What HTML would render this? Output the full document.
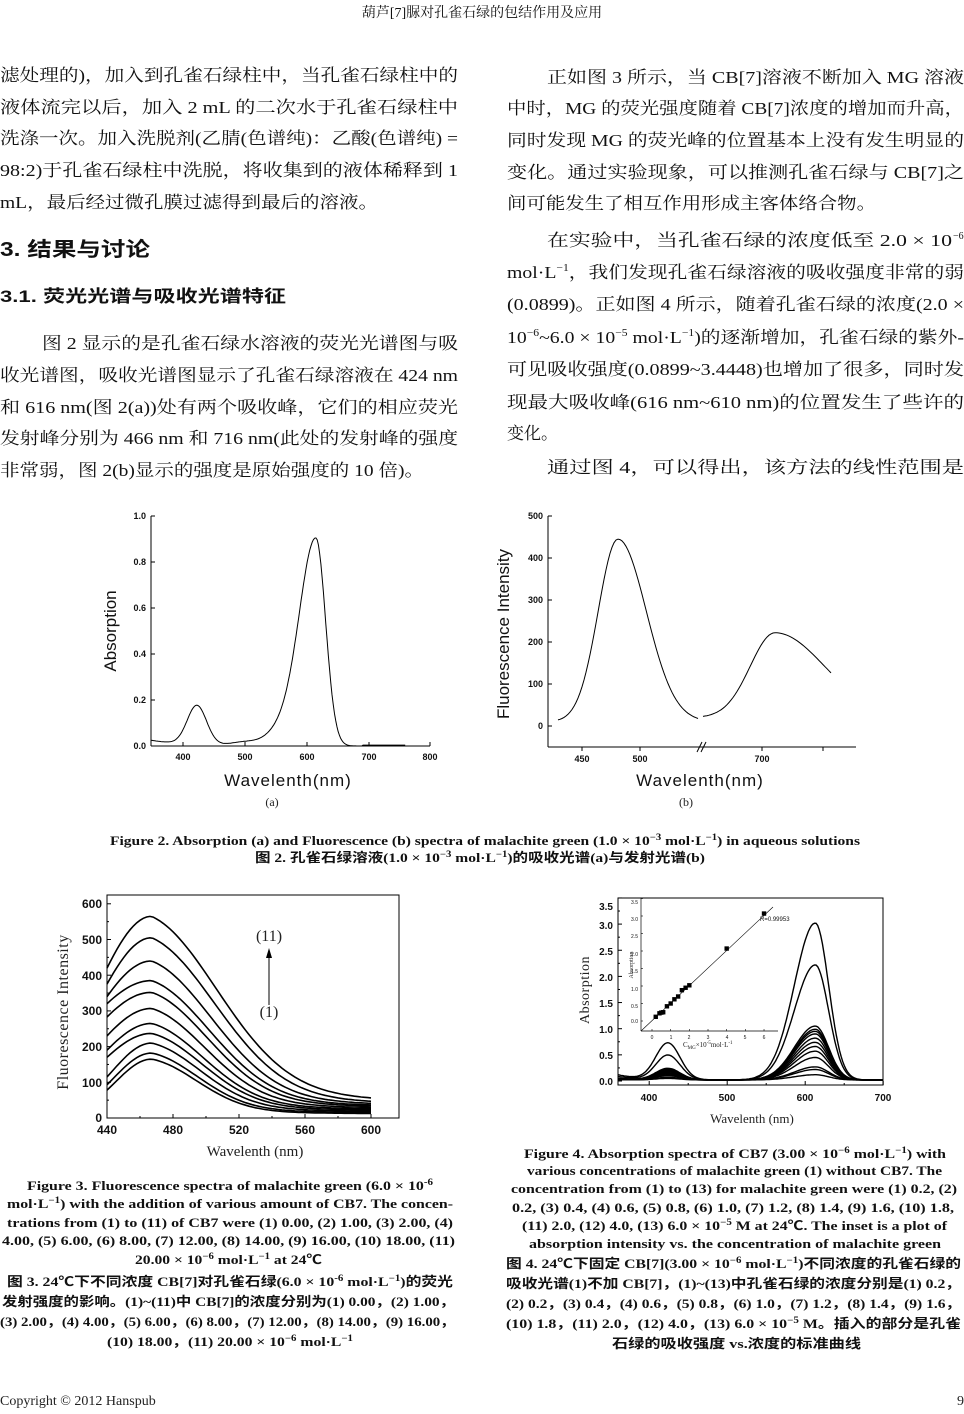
<!DOCTYPE html>
<html><head><meta charset="utf-8"><style>
html,body{margin:0;padding:0;background:#fff}
svg{display:block}
.b{font-family:"Liberation Serif","Noto Serif CJK SC",serif;font-size:17px;fill:#111}
.h{font-family:"Liberation Sans","Noto Sans CJK SC",sans-serif;font-weight:bold;fill:#111}
.c{font-family:"Liberation Serif","Noto Sans CJK SC",serif;font-weight:bold;font-size:13px;fill:#111}
.t{font-family:"Liberation Sans",sans-serif;font-weight:bold;fill:#111}
.s{font-family:"Liberation Sans",sans-serif;fill:#111}
.r{font-family:"Liberation Serif",serif;fill:#222}
</style></head><body>
<svg id="g" width="964" height="1414" viewBox="0 0 964 1414" xmlns="http://www.w3.org/2000/svg">
<text x="482" y="17" text-anchor="middle" class="b" style="font-size:14px">葫芦[7]脲对孔雀石绿的包结作用及应用</text>

<text class="b" x="0" y="81" textLength="458" lengthAdjust="spacingAndGlyphs">滤处理的)，加入到孔雀石绿柱中，当孔雀石绿柱中的</text>
<text class="b" x="0" y="113" textLength="458" lengthAdjust="spacingAndGlyphs">液体流完以后，加入 2 mL 的二次水于孔雀石绿柱中</text>
<text class="b" x="0" y="144" textLength="458" lengthAdjust="spacingAndGlyphs">洗涤一次。加入洗脱剂(乙腈(色谱纯)：乙酸(色谱纯) =</text>
<text class="b" x="0" y="176" textLength="458" lengthAdjust="spacingAndGlyphs">98:2)于孔雀石绿柱中洗脱，将收集到的液体稀释到 1</text>
<text class="b" x="0" y="208" textLength="378" lengthAdjust="spacingAndGlyphs">mL，最后经过微孔膜过滤得到最后的溶液。</text>
<text class="h" x="0" y="256" style="font-size:20px" textLength="150" lengthAdjust="spacingAndGlyphs">3. 结果与讨论</text>
<text class="h" x="0" y="302" style="font-size:17px" textLength="286" lengthAdjust="spacingAndGlyphs">3.1. 荧光光谱与吸收光谱特征</text>
<text class="b" x="42" y="349" textLength="416" lengthAdjust="spacingAndGlyphs">图 2 显示的是孔雀石绿水溶液的荧光光谱图与吸</text>
<text class="b" x="0" y="381" textLength="458" lengthAdjust="spacingAndGlyphs">收光谱图，吸收光谱图显示了孔雀石绿溶液在 424 nm</text>
<text class="b" x="0" y="413" textLength="458" lengthAdjust="spacingAndGlyphs">和 616 nm(图 2(a))处有两个吸收峰，它们的相应荧光</text>
<text class="b" x="0" y="444" textLength="458" lengthAdjust="spacingAndGlyphs">发射峰分别为 466 nm 和 716 nm(此处的发射峰的强度</text>
<text class="b" x="0" y="476" textLength="424" lengthAdjust="spacingAndGlyphs">非常弱，图 2(b)显示的强度是原始强度的 10 倍)。</text>

<text class="b" x="547" y="83" textLength="417" lengthAdjust="spacingAndGlyphs">正如图 3 所示，当 CB[7]溶液不断加入 MG 溶液</text>
<text class="b" x="507" y="114" textLength="457" lengthAdjust="spacingAndGlyphs">中时，MG 的荧光强度随着 CB[7]浓度的增加而升高，</text>
<text class="b" x="507" y="146" textLength="457" lengthAdjust="spacingAndGlyphs">同时发现 MG 的荧光峰的位置基本上没有发生明显的</text>
<text class="b" x="507" y="178" textLength="457" lengthAdjust="spacingAndGlyphs">变化。通过实验现象，可以推测孔雀石绿与 CB[7]之</text>
<text class="b" x="507" y="209" textLength="369" lengthAdjust="spacingAndGlyphs">间可能发生了相互作用形成主客体络合物。</text>
<text class="b" x="547" y="246" textLength="405" lengthAdjust="spacingAndGlyphs">在实验中，当孔雀石绿的浓度低至 2.0 × 10</text><text class="b" x="953" y="239" style="font-size:10px">−6</text>
<text class="b" x="507" y="278" textLength="457" lengthAdjust="spacingAndGlyphs">mol·L<tspan dy="-7" font-size="10">−1</tspan><tspan dy="7">，我们发现孔雀石绿溶液的吸收强度非常的弱</tspan></text>
<text class="b" x="507" y="310" textLength="457" lengthAdjust="spacingAndGlyphs">(0.0899)。正如图 4 所示，随着孔雀石绿的浓度(2.0 ×</text>
<text class="b" x="507" y="343" textLength="457" lengthAdjust="spacingAndGlyphs">10<tspan dy="-7" font-size="10">−6</tspan><tspan dy="7">~6.0 × 10</tspan><tspan dy="-7" font-size="10">−5</tspan><tspan dy="7"> mol·L</tspan><tspan dy="-7" font-size="10">−1</tspan><tspan dy="7">)的逐渐增加，孔雀石绿的紫外-</tspan></text>
<text class="b" x="507" y="375" textLength="457" lengthAdjust="spacingAndGlyphs">可见吸收强度(0.0899~3.4448)也增加了很多，同时发</text>
<text class="b" x="507" y="408" textLength="457" lengthAdjust="spacingAndGlyphs">现最大吸收峰(616 nm~610 nm)的位置发生了些许的</text>
<text class="b" x="507" y="439">变化。</text>
<text class="b" x="547" y="473" textLength="417" lengthAdjust="spacingAndGlyphs">通过图 4，可以得出，该方法的线性范围是</text>

<!-- Fig 2a -->
<g stroke="#000" stroke-width="1" fill="none">
<line x1="151" y1="516" x2="151" y2="746"/><line x1="151" y1="746" x2="430" y2="746"/>
<line x1="183" y1="746" x2="183" y2="742"/><line x1="245" y1="746" x2="245" y2="742"/><line x1="307" y1="746" x2="307" y2="742"/><line x1="369" y1="746" x2="369" y2="742"/><line x1="430" y1="746" x2="430" y2="742"/>
<line x1="151" y1="516" x2="155" y2="516"/><line x1="151" y1="562" x2="155" y2="562"/><line x1="151" y1="608" x2="155" y2="608"/><line x1="151" y1="654" x2="155" y2="654"/><line x1="151" y1="700" x2="155" y2="700"/>
<path id="p2a" stroke-width="1"/>
</g>
<g class="t" style="font-size:9px" text-anchor="end">
<text x="146" y="519">1.0</text><text x="146" y="565">0.8</text><text x="146" y="611">0.6</text><text x="146" y="657">0.4</text><text x="146" y="703">0.2</text><text x="146" y="749">0.0</text></g>
<g class="t" style="font-size:9px" text-anchor="middle">
<text x="183" y="760">400</text><text x="245" y="760">500</text><text x="307" y="760">600</text><text x="369" y="760">700</text><text x="430" y="760">800</text></g>
<text class="s" transform="translate(116,631) rotate(-90)" text-anchor="middle" style="font-size:17px">Absorption</text>
<text class="s" x="288" y="786" text-anchor="middle" style="font-size:17px;letter-spacing:1px">Wavelenth(nm)</text>
<text class="r" x="272" y="806" text-anchor="middle" style="font-size:12px">(a)</text>

<!-- Fig 2b -->
<g stroke="#000" stroke-width="1" fill="none">
<line x1="548" y1="516" x2="548" y2="747"/><line x1="548" y1="747" x2="856" y2="747"/>
<line x1="548" y1="516" x2="552" y2="516"/><line x1="548" y1="558" x2="552" y2="558"/><line x1="548" y1="600" x2="552" y2="600"/><line x1="548" y1="642" x2="552" y2="642"/><line x1="548" y1="684" x2="552" y2="684"/><line x1="548" y1="726" x2="552" y2="726"/>
<line x1="582" y1="747" x2="582" y2="751"/><line x1="640" y1="747" x2="640" y2="751"/><line x1="762" y1="747" x2="762" y2="751"/><line x1="823" y1="747" x2="823" y2="751"/>
<line x1="697" y1="752" x2="702" y2="742"/><line x1="701" y1="752" x2="706" y2="742"/>
<path id="p2b1"/><path id="p2b2"/>
</g>
<g class="t" style="font-size:9px" text-anchor="end">
<text x="543" y="519">500</text><text x="543" y="561">400</text><text x="543" y="603">300</text><text x="543" y="645">200</text><text x="543" y="687">100</text><text x="543" y="729">0</text></g>
<g class="t" style="font-size:9px" text-anchor="middle"><text x="582" y="762">450</text><text x="640" y="762">500</text><text x="762" y="762">700</text></g>
<text class="s" transform="translate(509,634) rotate(-90)" text-anchor="middle" style="font-size:17px">Fluorescence Intensity</text>
<text class="s" x="700" y="786" text-anchor="middle" style="font-size:17px;letter-spacing:1px">Wavelenth(nm)</text>
<text class="r" x="686" y="806" text-anchor="middle" style="font-size:12px">(b)</text>

<text class="c" x="110" y="845" textLength="750" lengthAdjust="spacingAndGlyphs">Figure 2. Absorption (a) and Fluorescence (b) spectra of malachite green (1.0 × 10<tspan dy="-5" font-size="9">−3</tspan><tspan dy="5"> mol·L</tspan><tspan dy="-5" font-size="9">−1</tspan><tspan dy="5">) in aqueous solutions</tspan></text>
<text class="c" x="255" y="862" textLength="450" lengthAdjust="spacingAndGlyphs">图 2. 孔雀石绿溶液(1.0 × 10<tspan dy="-5" font-size="9">−3</tspan><tspan dy="5"> mol·L</tspan><tspan dy="-5" font-size="9">−1</tspan><tspan dy="5">)的吸收光谱(a)与发射光谱(b)</tspan></text>

<!-- Fig 3 -->
<g stroke="#000" stroke-width="1" fill="none">
<rect x="107" y="895" width="292" height="223"/>
<g id="t3"></g>
<g id="c3" stroke-width="1.6"></g>
<line x1="269" y1="1005" x2="269" y2="955"/>
</g>
<path d="M269 948 L266 958 L272 958Z" fill="#000"/>
<g class="t" style="font-size:12px" text-anchor="end">
<text x="102" y="908">600</text><text x="102" y="944">500</text><text x="102" y="980">400</text><text x="102" y="1015">300</text><text x="102" y="1051">200</text><text x="102" y="1087">100</text><text x="102" y="1122">0</text></g>
<g class="t" style="font-size:12px" text-anchor="middle">
<text x="107" y="1134">440</text><text x="173" y="1134">480</text><text x="239" y="1134">520</text><text x="305" y="1134">560</text><text x="371" y="1134">600</text></g>
<text class="r" x="269" y="941" text-anchor="middle" style="font-size:16px">(11)</text>
<text class="r" x="269" y="1017" text-anchor="middle" style="font-size:16px">(1)</text>
<text class="r" transform="translate(68,1012) rotate(-90)" text-anchor="middle" style="font-size:16px;letter-spacing:0.5px">Fluorescence Intensity</text>
<text class="r" x="255" y="1156" text-anchor="middle" style="font-size:15px">Wavelenth (nm)</text>

<g class="c">
<text x="27" y="1190" textLength="406" lengthAdjust="spacingAndGlyphs">Figure 3. Fluorescence spectra of malachite green (6.0 × 10<tspan dy="-5" font-size="9">-6</tspan></text>
<text x="7" y="1208" textLength="446" lengthAdjust="spacingAndGlyphs">mol·L<tspan dy="-5" font-size="9">−1</tspan><tspan dy="5">) with the addition of various amount of CB7. The concen-</tspan></text>
<text x="7" y="1227" textLength="446" lengthAdjust="spacingAndGlyphs">trations from (1) to (11) of CB7 were (1) 0.00, (2) 1.00, (3) 2.00, (4)</text>
<text x="2" y="1245" textLength="453" lengthAdjust="spacingAndGlyphs">4.00, (5) 6.00, (6) 8.00, (7) 12.00, (8) 14.00, (9) 16.00, (10) 18.00, (11)</text>
<text x="135" y="1264" textLength="187" lengthAdjust="spacingAndGlyphs">20.00 × 10<tspan dy="-5" font-size="9">−6</tspan><tspan dy="5"> mol·L</tspan><tspan dy="-5" font-size="9">−1</tspan><tspan dy="5"> at 24℃</tspan></text>
<text x="7" y="1286" textLength="446" lengthAdjust="spacingAndGlyphs">图 3. 24℃下不同浓度 CB[7]对孔雀石绿(6.0 × 10<tspan dy="-5" font-size="9">-6</tspan><tspan dy="5"> mol·L</tspan><tspan dy="-5" font-size="9">−1</tspan><tspan dy="5">)的荧光</tspan></text>
<text x="2" y="1306" textLength="453" lengthAdjust="spacingAndGlyphs">发射强度的影响。(1)~(11)中 CB[7]的浓度分别为(1) 0.00，(2) 1.00，</text>
<text x="0" y="1326" textLength="455" lengthAdjust="spacingAndGlyphs">(3) 2.00，(4) 4.00，(5) 6.00，(6) 8.00，(7) 12.00，(8) 14.00，(9) 16.00，</text>
<text x="107" y="1346" textLength="246" lengthAdjust="spacingAndGlyphs">(10) 18.00，(11) 20.00 × 10<tspan dy="-5" font-size="9">−6</tspan><tspan dy="5"> mol·L</tspan><tspan dy="-5" font-size="9">−1</tspan></text>
</g>

<!-- Fig 4 -->
<g stroke="#000" stroke-width="1" fill="none">
<rect x="618" y="898" width="265" height="187"/>
<g id="t4"></g>
<g id="c4" stroke-width="1.4"></g>
<line x1="641" y1="898" x2="641" y2="1031" stroke-width="0.7"/><line x1="641" y1="1031" x2="778" y2="1031" stroke-width="0.7"/>
<line x1="641" y1="1031" x2="773" y2="907" stroke-width="0.6"/>
<g id="t5" stroke-width="0.6"></g>
</g>
<g id="pts"></g>
<g class="t" style="font-size:10px" text-anchor="end">
<text x="613" y="910">3.5</text><text x="613" y="929">3.0</text><text x="613" y="955">2.5</text><text x="613" y="981">2.0</text><text x="613" y="1007">1.5</text><text x="613" y="1033">1.0</text><text x="613" y="1059">0.5</text><text x="613" y="1085">0.0</text></g>
<g class="t" style="font-size:10px" text-anchor="middle"><text x="649" y="1101">400</text><text x="727" y="1101">500</text><text x="805" y="1101">600</text><text x="883" y="1101">700</text></g>
<g class="s" style="font-size:5px" text-anchor="end">
<text x="638" y="904">3.5</text><text x="638" y="921">3.0</text><text x="638" y="938">2.5</text><text x="638" y="956">2.0</text><text x="638" y="973">1.5</text><text x="638" y="991">1.0</text><text x="638" y="1008">0.5</text><text x="638" y="1023">0.0</text></g>
<g class="s" style="font-size:5px" text-anchor="middle"><text x="652" y="1039">0</text><text x="671" y="1039">1</text><text x="689" y="1039">2</text><text x="708" y="1039">3</text><text x="727" y="1039">4</text><text x="745" y="1039">5</text><text x="764" y="1039">6</text></g>
<text class="s" x="760" y="921" style="font-size:6px">R=0.99953</text>
<text class="r" x="683" y="1047" style="font-size:7px">C<tspan font-size="5" dy="2">MG</tspan><tspan dy="-2">×10</tspan><tspan font-size="5" dy="-3">-5</tspan><tspan dy="3">mol·L</tspan><tspan font-size="5" dy="-3">-1</tspan></text>
<text class="r" transform="translate(633,965) rotate(-90)" text-anchor="middle" style="font-size:6px">Absorption</text>
<text class="r" transform="translate(589,990) rotate(-90)" text-anchor="middle" style="font-size:14px;letter-spacing:0.5px">Absorption</text>
<text class="r" x="752" y="1123" text-anchor="middle" style="font-size:13px">Wavelenth (nm)</text>

<g class="c">
<text x="524" y="1158" textLength="422" lengthAdjust="spacingAndGlyphs">Figure 4. Absorption spectra of CB7 (3.00 × 10<tspan dy="-5" font-size="9">−6</tspan><tspan dy="5"> mol·L</tspan><tspan dy="-5" font-size="9">−1</tspan><tspan dy="5">) with</tspan></text>
<text x="527" y="1175" textLength="415" lengthAdjust="spacingAndGlyphs">various concentrations of malachite green (1) without CB7. The</text>
<text x="511" y="1193" textLength="446" lengthAdjust="spacingAndGlyphs">concentration from (1) to (13) for malachite green were (1) 0.2, (2)</text>
<text x="512" y="1212" textLength="442" lengthAdjust="spacingAndGlyphs">0.2, (3) 0.4, (4) 0.6, (5) 0.8, (6) 1.0, (7) 1.2, (8) 1.4, (9) 1.6, (10) 1.8,</text>
<text x="522" y="1230" textLength="425" lengthAdjust="spacingAndGlyphs">(11) 2.0, (12) 4.0, (13) 6.0 × 10<tspan dy="-5" font-size="9">−5</tspan><tspan dy="5"> M at 24℃. The inset is a plot of</tspan></text>
<text x="529" y="1248" textLength="412" lengthAdjust="spacingAndGlyphs">absorption intensity vs. the concentration of malachite green</text>
<text x="506" y="1268" textLength="455" lengthAdjust="spacingAndGlyphs">图 4. 24℃下固定 CB[7](3.00 × 10<tspan dy="-5" font-size="9">−6</tspan><tspan dy="5"> mol·L</tspan><tspan dy="-5" font-size="9">−1</tspan><tspan dy="5">)不同浓度的孔雀石绿的</tspan></text>
<text x="506" y="1288" textLength="455" lengthAdjust="spacingAndGlyphs">吸收光谱(1)不加 CB[7]，(1)~(13)中孔雀石绿的浓度分别是(1) 0.2，</text>
<text x="506" y="1308" textLength="455" lengthAdjust="spacingAndGlyphs">(2) 0.2，(3) 0.4，(4) 0.6，(5) 0.8，(6) 1.0，(7) 1.2，(8) 1.4，(9) 1.6，</text>
<text x="506" y="1328" textLength="455" lengthAdjust="spacingAndGlyphs">(10) 1.8，(11) 2.0，(12) 4.0，(13) 6.0 × 10<tspan dy="-5" font-size="9">−5</tspan><tspan dy="5"> M。插入的部分是孔雀</tspan></text>
<text x="612" y="1348" textLength="249" lengthAdjust="spacingAndGlyphs">石绿的吸收强度 vs.浓度的标准曲线</text>
</g>

<text class="r" x="0" y="1405" style="font-size:14px">Copyright © 2012 Hanspub</text>
<text class="r" x="964" y="1405" text-anchor="end" style="font-size:14px">9</text>
</svg>
<script>
var NS="http://www.w3.org/2000/svg";
function P(pts){return "M"+pts.map(function(p){return p[0].toFixed(1)+" "+p[1].toFixed(1)}).join(" L");}
function E(x){return Math.exp(x);}
function add(g,tag,attrs){var e=document.createElementNS(NS,tag);for(var k in attrs)e.setAttribute(k,attrs[k]);document.getElementById(g).appendChild(e);return e;}
var pts=[];
for(var nm=350;nm<=760;nm+=2){
 var a=0.17*E(-Math.pow((nm-424)/22,2))+0.025*E(-(nm-350)/60);
 var s=nm<616?38:22;
 a+=0.9*E(-Math.pow((nm-616)/s,2))+0.06*E(-Math.pow((nm-560)/35,2))+0.015*E(-Math.pow((nm-500)/30,2));
 if(nm>690)a=Math.max(a,0.004);
 pts.push([151+(nm-350)*0.62,746-a*230]);}
document.getElementById("p2a").setAttribute("d",P(pts));
pts=[];for(var x=558;x<=698;x+=2){var s=x<618?28:40;var I=10+435*E(-Math.pow((x-618)/s,2));pts.push([x,726-I*0.42]);}
document.getElementById("p2b1").setAttribute("d",P(pts));
pts=[];for(var x=703;x<=832;x+=2){var s=x<775?35:70;var I=20+202*E(-Math.pow((x-775)/s,2));pts.push([x,726-I*0.42]);}
document.getElementById("p2b2").setAttribute("d",P(pts));
for(var v=0;v<=600;v+=50){var y=1118-v*0.357;add("t3","line",{x1:107,y1:y,x2:v%100?109:111,y2:y});}
for(var n=440;n<=600;n+=20){var x=107+(n-440)*1.65;add("t3","line",{x1:x,y1:1118,x2:x,y2:n%40?1116:1114});}
var C=[[420,565,45,60],[375,505,38,58],[340,440,35,55],[320,385,32,53],[283,352,30,51],[230,307,27,49],[190,265,24,47],[170,237,21,46],[115,210,18,44],[93,182,15,42],[78,165,12,41]];
C.forEach(function(c){var s0=c[0],Pk=c[1],En=c[2],w=c[3];var wl=27/Math.sqrt(Math.log(Pk/s0));var pts=[];
 for(var nm=440;nm<=600;nm+=2){var I;if(nm<467)I=Pk*E(-Math.pow((nm-467)/wl,2));else{var d=nm-467;I=En+(Pk-En)*(0.8*E(-Math.pow(d/w,2))+0.2*E(-d/(w*0.9)))*(1-d/140*0.05);}
 pts.push([107+(nm-440)*1.65,1118-I*0.357]);}
 add("c3","path",{d:P(pts)});});
for(var v=0;v<=3.5;v+=0.25){var y=1081-v*52.3;add("t4","line",{x1:618,y1:y,x2:v*4%2?620:622,y2:y});}
for(var n=400;n<=700;n+=50){var x=618+(n-360)*0.78;add("t4","line",{x1:x,y1:1085,x2:x,y2:n%100?1083:1081});}
var A=[[0.7,3.0],[0.47,2.2],[0.22,1.03],[0.2,0.97],[0.19,0.93],[0.17,0.88],[0.15,0.8],[0.13,0.72],[0.12,0.64],[0.1,0.55],[0.08,0.43],[0.05,0.25],[0.04,0.2],[0.03,0.1]];
A.forEach(function(c){var pts=[];for(var nm=360;nm<=700;nm+=2){var s=nm<613?38:24;
 var a=c[0]*E(-Math.pow((nm-424)/22,2))+c[1]*E(-Math.pow((nm-613)/s,2))+0.1*c[0]/0.7*E(-(nm-360)/30)+0.02;
 pts.push([618+(nm-360)*0.78,1081-a*52.3]);}
 add("c4","path",{d:P(pts)});});
for(var v=0;v<=3.5;v+=0.5){var y=1021-v*35;add("t5","line",{x1:641,y1:y,x2:643,y2:y});}
for(var n=0;n<=6;n++){var x=652+n*18.67;add("t5","line",{x1:x,y1:1031,x2:x,y2:1029});}
[[0.2,0.12],[0.4,0.22],[0.5,0.24],[0.6,0.25],[0.8,0.42],[1.0,0.5],[1.2,0.62],[1.4,0.7],[1.6,0.88],[1.8,0.95],[2.0,1.02],[4.0,2.07],[6.0,3.07]].forEach(function(p){
 add("pts","rect",{x:652+p[0]*18.67-2.2,y:1021-p[1]*35-2.2,width:4.4,height:4.4,fill:"#000"});});
</script>
</body></html>
